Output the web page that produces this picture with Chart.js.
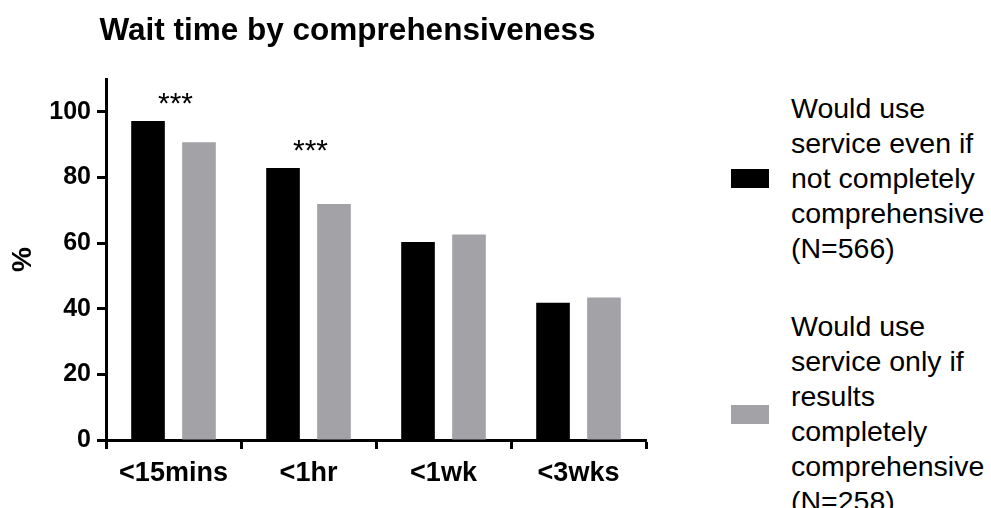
<!DOCTYPE html>
<html>
<head>
<meta charset="utf-8">
<script src="https://cdn.jsdelivr.net/npm/chart.js@4.4.1/dist/chart.umd.min.js"></script>
<style>
    html, body { margin: 0; padding: 0; background: #fff; }
    body { width: 991px; height: 508px; position: relative; overflow: hidden; font-family: "Liberation Sans", Arial, sans-serif; }
    #chartBox { position: absolute; left: 0; top: 0; width: 695px; height: 508px; }
    #title { position: absolute; left: 0; top: 10px; width: 695px; text-align: center; font-size: 31.5px; line-height: 38px; font-weight: bold; color: #000; }
    #legend { position: absolute; left: 731px; top: 91px; }
    .item { display: flex; align-items: center; margin-bottom: 43px; }
    .swatch { width: 38px; height: 19px; margin-right: 22px; flex: none; }
    .text { font-size: 28.5px; line-height: 35px; color: #000; }
</style>
</head>
<body>
<div id="chartBox"><canvas id="chart"></canvas></div>
<div id="title">Wait time by comprehensiveness</div>
<div id="legend"></div>
<script>
const categories = ['<15mins', '<1hr', '<1wk', '<3wks'];
const seriesNames = [
    ['Would use', 'service even if', 'not completely', 'comprehensive', '(N=566)'],
    ['Would use', 'service only if', 'results', 'completely', 'comprehensive', '(N=258)']
];
const notComprehensive = [97.2, 82.9, 60.3, 41.8];
const onlyComprehensive = [90.7, 71.9, 62.6, 43.4];
const significance = ['***', '***', '', ''];
const yTicks = [0, 20, 40, 60, 80, 100];
const colors = ['#000000', '#a3a2a7'];

const FONT = '"Liberation Sans", Arial, sans-serif';

// html legend, multi-line labels
const legend = document.getElementById('legend');
seriesNames.forEach((lines, i) => {
    const item = document.createElement('div');
    item.className = 'item';
    const sw = document.createElement('div');
    sw.className = 'swatch';
    sw.style.background = colors[i];
    const txt = document.createElement('div');
    txt.className = 'text';
    txt.innerHTML = lines.join('<br>');
    item.appendChild(sw);
    item.appendChild(txt);
    legend.appendChild(item);
});

const starPlugin = {
    id: 'stars',
    afterDatasetsDraw(chart) {
        const ctx = chart.ctx;
        const x = chart.scales.x;
        ctx.save();
        ctx.font = '30px ' + FONT;
        ctx.fillStyle = '#000';
        ctx.textAlign = 'center';
        ctx.textBaseline = 'alphabetic';
        significance.forEach((s, i) => {
            if (!s) return;
            let top = Infinity;
            chart.data.datasets.forEach((d, di) => {
                top = Math.min(top, chart.getDatasetMeta(di).data[i].y);
            });
            ctx.fillText(s, x.getPixelForValue(i) + 2, top - 8);
        });
        ctx.restore();
    }
};

new Chart(document.getElementById('chart'), {
    type: 'bar',
    data: {
        labels: categories,
        datasets: [
            { label: seriesNames[0].join(' '), data: notComprehensive, backgroundColor: colors[0] },
            { label: seriesNames[1].join(' '), data: onlyComprehensive, backgroundColor: colors[1] }
        ]
    },
    options: {
        responsive: true,
        maintainAspectRatio: false,
        animation: false,
        layout: { padding: { left: 0, right: 49, top: 79, bottom: 0 } },
        categoryPercentage: 0.755,
        barPercentage: 0.66,
        plugins: {
            legend: { display: false },
            tooltip: { enabled: false },
            title: { display: false }
        },
        scales: {
            x: {
                afterFit(axis) { axis.height = 68; },
                grid: { display: true, drawOnChartArea: false, tickLength: 9, tickWidth: 3, tickColor: '#000' },
                border: { color: '#000', width: 3 },
                ticks: { color: '#000', font: { family: FONT, size: 27, weight: 'bold' }, padding: 8 }
            },
            y: {
                min: 0,
                max: 110,
                afterBuildTicks(axis) { axis.ticks = yTicks.map(v => ({ value: v })); },
                afterFit(axis) { axis.width = 106; },
                grid: { display: true, drawOnChartArea: false, tickLength: 9, tickWidth: 3, tickColor: '#000' },
                border: { color: '#000', width: 3 },
                ticks: { color: '#000', font: { family: FONT, size: 25, weight: 'bold' }, padding: 6 },
                title: { display: true, text: '%', color: '#000', font: { family: FONT, size: 28, weight: 'bold' }, padding: { top: 6, bottom: 0 } }
            }
        }
    },
    plugins: [starPlugin]
});
</script>
</body>
</html>
